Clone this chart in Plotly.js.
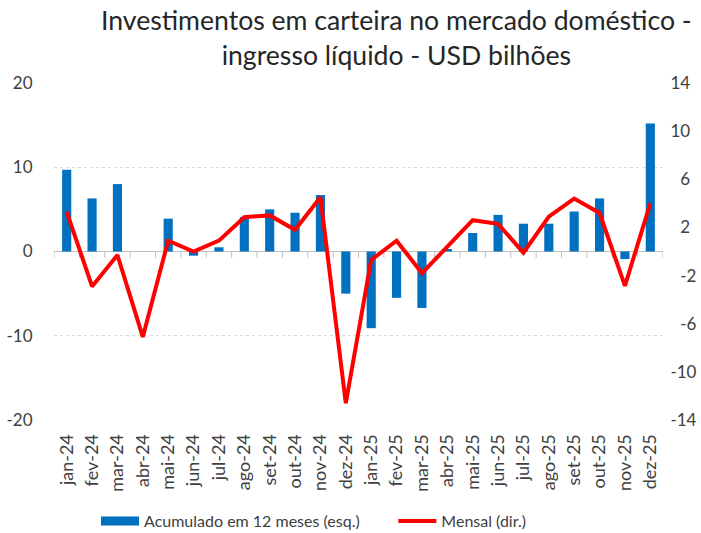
<!DOCTYPE html>
<html>
<head>
<meta charset="utf-8">
<script src="https://cdn.plot.ly/plotly-3.0.1.min.js"></script>
<style>html,body{margin:0;padding:0;background:#fff;}</style>
</head>
<body>
<div id="chart" style="width:701px;height:533px;"></div>
<script>
const categories = ["jan-24","fev-24","mar-24","abr-24","mai-24","jun-24","jul-24","ago-24","set-24","out-24","nov-24","dez-24",
  "jan-25","fev-25","mar-25","abr-25","mai-25","jun-25","jul-25","ago-25","set-25","out-25","nov-25","dez-25"];
const acumulado12m = [9.7, 6.3, 8.0, 0.0, 3.9, -0.5, 0.5, 4.1, 5.0, 4.6, 6.7, -5.0,
  -9.1, -5.5, -6.7, 0.3, 2.2, 4.35, 3.3, 3.3, 4.75, 6.3, -0.9, 15.2];
const mensal = [3.3, -2.9, -0.3, -7.1, 0.9, 0.0, 0.9, 2.85, 3.0, 1.8, 4.5, -12.6,
  -0.7, 0.9, -1.8, 0.4, 2.6, 2.3, -0.1, 2.9, 4.4, 3.2, -2.85, 4.0];
const leftTicks = [-20, -10, 0, 10, 20];
const leftTickLabels = ["-20", "-10", "0", "10", "20"];
const rightTicks = [-14, -10, -6, -2, 2, 6, 10, 14];
const rightTickLabels = ["-14", "-10", "\u2007-6", "\u2007-2", "\u20072", "\u20076", "10", "14"];
const seriesNames = ["Acumulado em 12 meses (esq.)", "Mensal (dir.)"];
const titleText = "Investimentos em carteira no mercado doméstico -<br>ingresso líquido - USD bilhões";

const FONT = "Lato, 'Open Sans', sans-serif";
const blue = "#0070C0";
const red = "#FF0000";

const traces = [
  {type: "bar", x: categories, y: acumulado12m, name: seriesNames[0],
   marker: {color: blue}, yaxis: "y", showlegend: false},
  {type: "scatter", mode: "lines", x: categories, y: mensal, name: seriesNames[1],
   line: {color: red, width: 4}, yaxis: "y2", showlegend: false},
  {type: "scatter", mode: "lines", x: [null], y: [null], name: seriesNames[0] + "\u00a0\u00a0\u00a0\u00a0\u00a0\u00a0\u00a0",
   line: {color: blue, width: 9}, yaxis: "y", showlegend: true},
  {type: "scatter", mode: "lines", x: [null], y: [null], name: seriesNames[1],
   line: {color: red, width: 4}, yaxis: "y2", showlegend: true}
];

// small tick marks on the zero line between categories
const shapes = [];
for (let i = 0; i <= categories.length; i++) {
  shapes.push({type: "line", xref: "x", yref: "y", x0: i - 0.5, x1: i - 0.5, y0: 0, y1: -0.75,
    line: {color: "#BFBFBF", width: 1}, layer: "below"});
}

const layout = {
  width: 701, height: 533,
  margin: {l: 54, r: 38, t: 83, b: 113, pad: 0, autoexpand: false},
  paper_bgcolor: "#fff", plot_bgcolor: "#fff",
  font: {family: FONT, color: "#404040"},
  annotations: [{text: titleText, xref: "paper", yref: "paper", x: 0.563, y: 1.24,
    xanchor: "center", yanchor: "top", showarrow: false, align: "center",
    font: {family: FONT, size: 26.6, color: "#262626"}}],
  bargap: 0.64,
  xaxis: {type: "category", tickangle: -90, showgrid: false, zeroline: false, showline: false,
    automargin: false, dtick: 1, ticks: "outside", ticklen: 6, tickcolor: "rgba(0,0,0,0)",
    tickfont: {family: FONT, size: 18, color: "#404040"}, range: [-0.5, 23.5]},
  yaxis: {range: [-20, 20], tickvals: leftTicks, ticktext: leftTickLabels, showgrid: true, gridcolor: "#D9D9D9", griddash: "dot",
    gridwidth: 1, zeroline: true, zerolinecolor: "#BFBFBF", zerolinewidth: 1, automargin: false,
    ticks: "outside", ticklen: 17, tickcolor: "rgba(0,0,0,0)",
    tickfont: {family: FONT, size: 17, color: "#404040"}},
  yaxis2: {range: [-14, 14], tickvals: rightTicks, ticktext: rightTickLabels, overlaying: "y", side: "right",
    showgrid: false, zeroline: false, automargin: false, ticks: "outside", ticklen: 3, tickcolor: "rgba(0,0,0,0)",
    tickfont: {family: FONT, size: 17, color: "#404040"}},
  legend: {orientation: "h", x: 0.069, xref: "paper", xanchor: "left", y: -0.30, yref: "paper", yanchor: "middle",
    font: {family: FONT, size: 16, color: "#404040"}, itemwidth: 38, bgcolor: "rgba(0,0,0,0)"},
  shapes: shapes
};

Plotly.newPlot("chart", traces, layout, {displayModeBar: false, staticPlot: true});
</script>
</body>
</html>
